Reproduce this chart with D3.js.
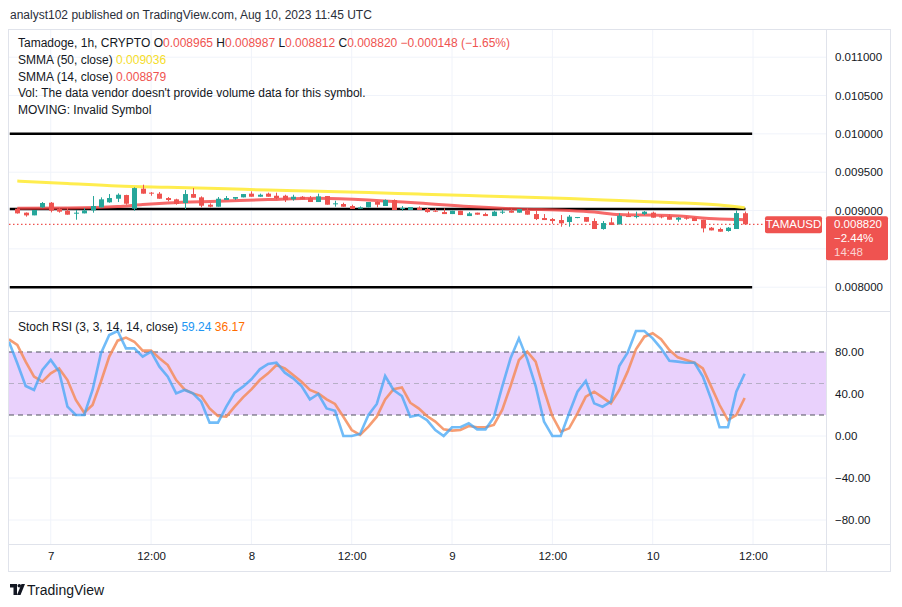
<!DOCTYPE html>
<html>
<head>
<meta charset="utf-8">
<script src="https://cdn.jsdelivr.net/npm/d3@7"></script>
<style>
body{margin:0;background:#fff;}
svg text{font-family:"Liberation Sans",Arial,sans-serif;}
</style>
</head>
<body>
<div id="chart"></div>
<script>
// hourly candles, first one at Aug 6 20:00 UTC
const opens=[0.009024,0.008972,0.008937,0.009041,0.009102,0.009020,0.008998,0.008959,0.008963,0.009002,
0.009041,0.009107,0.009154,0.009202,0.009024,0.009285,0.009233,0.009220,0.009163,0.009146,
0.009098,0.009215,0.009172,0.009076,0.009050,0.009137,0.009154,0.009172,0.009220,0.009180,
0.009220,0.009193,0.009193,0.009146,0.009180,0.009163,0.009111,0.009189,0.009085,0.009085,
0.009059,0.009024,0.009041,0.009111,0.009059,0.009137,0.009020,0.009007,0.009037,0.009020,
0.008998,0.008980,0.008954,0.008998,0.008928,0.008972,0.008954,0.008928,0.008972,0.008998,
0.008972,0.008998,0.008954,0.008902,0.008889,0.008876,0.008850,0.008907,0.008915,0.008863,
0.008759,0.008846,0.008820,0.008928,0.008920,0.008954,0.008972,0.008924,0.008924,0.008880,
0.008907,0.008907,0.008880,0.008776,0.008759,0.008733,0.008759,0.008965];
const highs=[0.009028,0.008975,0.008940,0.009111,0.009111,0.009033,0.009033,0.009007,0.009033,0.009189,
0.009172,0.009215,0.009224,0.009206,0.009302,0.009337,0.009241,0.009241,0.009176,0.009154,
0.009267,0.009293,0.009185,0.009094,0.009176,0.009189,0.009176,0.009215,0.009250,0.009220,
0.009233,0.009233,0.009206,0.009206,0.009189,0.009189,0.009220,0.009189,0.009128,0.009102,
0.009076,0.009054,0.009111,0.009120,0.009145,0.009145,0.009059,0.009046,0.009054,0.009033,
0.009028,0.009028,0.008998,0.008998,0.008980,0.008972,0.008972,0.008998,0.009015,0.009024,
0.009020,0.009028,0.009007,0.008954,0.008902,0.008941,0.008941,0.008915,0.008915,0.008898,
0.008863,0.008907,0.008963,0.008985,0.008985,0.008993,0.008985,0.008941,0.008950,0.008915,
0.008924,0.008915,0.008880,0.008785,0.008776,0.008785,0.009002,0.008987];
const lows=[0.008960,0.008920,0.008937,0.009033,0.008976,0.008972,0.008946,0.008880,0.008963,0.008972,
0.009041,0.009102,0.009111,0.009076,0.008998,0.009220,0.009193,0.009154,0.009120,0.009076,
0.009020,0.009167,0.009041,0.009041,0.009050,0.009137,0.009137,0.009172,0.009180,0.009180,
0.009180,0.009146,0.009111,0.009128,0.009146,0.009111,0.009111,0.009076,0.009050,0.009050,
0.009020,0.009024,0.009041,0.009041,0.009059,0.009007,0.008998,0.009007,0.009007,0.008972,
0.008980,0.008954,0.008954,0.008941,0.008928,0.008946,0.008928,0.008928,0.008954,0.008972,
0.008972,0.008946,0.008876,0.008876,0.008828,0.008789,0.008789,0.008900,0.008854,0.008759,
0.008750,0.008811,0.008820,0.008920,0.008898,0.008941,0.008907,0.008898,0.008880,0.008854,
0.008880,0.008863,0.008715,0.008741,0.008724,0.008724,0.008759,0.008812];
const closes=[0.008963,0.008937,0.009007,0.009098,0.008998,0.008985,0.008946,0.008972,0.009002,0.009059,
0.009146,0.009163,0.009206,0.009089,0.009293,0.009220,0.009220,0.009154,0.009137,0.009085,
0.009215,0.009167,0.009063,0.009050,0.009154,0.009163,0.009176,0.009215,0.009180,0.009206,
0.009180,0.009163,0.009137,0.009180,0.009146,0.009111,0.009185,0.009076,0.009094,0.009050,
0.009020,0.009041,0.009111,0.009076,0.009137,0.009007,0.009033,0.009046,0.009007,0.008980,
0.008985,0.008954,0.008998,0.008941,0.008963,0.008946,0.008928,0.008985,0.008985,0.008972,
0.009020,0.008946,0.008889,0.008876,0.008863,0.008833,0.008920,0.008915,0.008854,0.008759,
0.008837,0.008811,0.008933,0.008920,0.008928,0.008985,0.008907,0.008911,0.008880,0.008907,
0.008893,0.008863,0.008767,0.008741,0.008724,0.008776,0.008967,0.008820];

// smoothed moving averages read at a few candle indexes
const smma50Idx=[0,6,12,18,24,30,36,42,48,54,60,66,72,78,84,87];
const smma50=[0.009385,0.009352,0.009320,0.009303,0.009287,0.009267,0.009252,0.009235,0.009215,0.009196,0.009176,0.009156,0.009130,0.009104,0.009072,0.009036];
const smma14Idx=[0,6,12,15,18,24,30,36,42,45,48,54,60,66,69,72,78,84,86,87];
const smma14=[0.009029,0.009033,0.009052,0.009078,0.009098,0.009120,0.009143,0.009159,0.009137,0.009117,0.009098,0.009052,0.009020,0.009000,0.008980,0.008948,0.008935,0.008889,0.008883,0.008879];

// stoch rsi, first value at Aug 6 19:00 UTC
const stochK=[89.8,69.2,47.6,43.8,62.9,72.4,61.3,27.9,20.0,20.0,43.8,78.7,96.2,100,83.5,83.5,75.6,80.3,66.0,56.5,
40.6,43.8,40.6,32.7,12.7,12.7,27.9,41.3,47.0,54.0,63.5,68.6,69.8,60.3,54.9,47.6,34.9,40.0,26.3,24.1,
0,0,1.9,20.0,30.5,57.1,43.8,38.1,18.4,20.0,15.2,5.7,0,8.3,8.3,12.1,6.3,6.3,17.8,47.0,
74.0,93.0,73.0,47.6,13.7,0,0,21.6,42.2,52.4,31.1,27.9,32.7,66.7,79.4,100,100,93.0,83.5,71.7,
70.8,69.8,69.8,56.5,34.9,8.3,8.3,42.2,59.24];
const stochD=[92.1,86.7,70.8,56.5,51.7,59.7,64.4,53.3,34.3,22.2,29.5,51.7,75.6,90.8,93.7,89.8,81.3,81.3,74.0,67.6,
53.3,44.4,40.6,38.1,26.3,19.0,18.4,27.9,36.8,44.4,53.3,59.7,67.6,64.4,58.1,51.7,43.8,40.6,34.9,30.5,
18.4,5.7,1.0,8.9,18.4,34.9,44.5,46.3,31.7,26.3,19.0,13.7,6.3,5.1,5.7,9.5,8.3,8.3,10.5,24.8,
47.6,72.4,80.3,70.8,43.8,19.0,4.1,7.3,21.6,37.5,42.2,36.8,31.1,43.8,61.3,82.5,94.6,97.8,92.1,81.9,
74.9,72.4,69.8,64.4,47.0,29.5,15.2,20.0,36.17];

const priceTicks=[0.0080,0.0085,0.0090,0.0095,0.0100,0.0105,0.0110];
const priceLabels=[0.0080,0.0090,0.0095,0.0100,0.0105,0.0110]; // 0.0085 sits under the price badge
const stochTicks=[-80,-40,0,40,80];
const levelPrices=[0.010000,0.009020,0.008000];
const timeTicks=["2023-08-07T00:00Z","2023-08-07T12:00Z","2023-08-08T00:00Z","2023-08-08T12:00Z",
"2023-08-09T00:00Z","2023-08-09T12:00Z","2023-08-10T00:00Z","2023-08-10T12:00Z"];
const timeLabels=["7","12:00","8","12:00","9","12:00","10","12:00"];

const W=902,H=607;
const hour=3600e3;
const t0=Date.UTC(2023,7,6,20);
const t=i=>new Date(t0+i*hour);

const svg=d3.select("#chart").append("svg").attr("width",W).attr("height",H);

//scales
const x=d3.scaleUtc().domain([t(-1),t(96.73)]).range([8.94,826]);
const y=d3.scaleLinear().domain([0.008,0.011]).range([287.2,57.2]);
const ys=d3.scaleLinear().domain([-80,80]).range([520,352]);

const gridC="#f0f3fa", borderC="#e0e3eb";

// header
svg.append("text").attr("x",10).attr("y",19).attr("font-size",12).attr("fill","#2a2e39")
   .text("analyst102 published on TradingView.com, Aug 10, 2023 11:45 UTC");

// grid
const grid=svg.append("g");
grid.selectAll(".vg").data(timeTicks).enter().append("line")
   .attr("x1",d=>x(new Date(d))).attr("x2",d=>x(new Date(d)))
   .attr("y1",30).attr("y2",544).attr("stroke",gridC);
grid.selectAll(".hg").data(priceTicks).enter().append("line")
   .attr("x1",9).attr("x2",826).attr("y1",d=>y(d)).attr("y2",d=>y(d)).attr("stroke",gridC);
grid.selectAll(".sg").data(stochTicks).enter().append("line")
   .attr("x1",9).attr("x2",826).attr("y1",d=>ys(d)).attr("y2",d=>ys(d)).attr("stroke",gridC);

// clips
const defs=svg.append("defs");
defs.append("clipPath").attr("id","cp").append("rect").attr("x",9).attr("y",30).attr("width",817).attr("height",280);
defs.append("clipPath").attr("id","cs").append("rect").attr("x",9).attr("y",312).attr("width",817).attr("height",231);

const pane=svg.append("g").attr("clip-path","url(#cp)");

// level lines
pane.selectAll(".lvl").data(levelPrices).enter().append("line")
   .attr("x1",x(t(-0.9))).attr("x2",(d,i)=>i==1?x(t(87.1)):x(t(87.9)))
   .attr("y1",d=>y(d)).attr("y2",d=>y(d)).attr("stroke","#000").attr("stroke-width",2.5);

// moving averages
const ma=d3.line().curve(d3.curveMonotoneX).x(d=>x(t(d[0]))).y(d=>y(d[1]));
pane.append("path").datum(smma50Idx.map((d,i)=>[d,smma50[i]]))
   .attr("d",ma).attr("fill","none").attr("stroke","#ffeb3b").attr("stroke-width",3).attr("opacity",0.9);
pane.append("path").datum(smma14Idx.map((d,i)=>[d,smma14[i]]))
   .attr("d",ma).attr("fill","none").attr("stroke","#f44343").attr("stroke-width",3).attr("opacity",0.8);

// last price dotted line
pane.append("line").attr("x1",9).attr("x2",765).attr("y1",y(closes[closes.length-1])).attr("y2",y(closes[closes.length-1]))
   .attr("stroke","#ef5350").attr("stroke-width",1.3).attr("stroke-dasharray","1.5,2.5");

// candles
const candles=closes.map((c,i)=>({i:i,o:opens[i],h:highs[i],l:lows[i],c:c}));
const cg=pane.selectAll(".c").data(candles).enter().append("g")
   .attr("fill",d=>d.c>=d.o?"#26a69a":"#ef5350").attr("stroke",d=>d.c>=d.o?"#26a69a":"#ef5350");
cg.append("line").attr("x1",d=>Math.round(x(t(d.i)))+0.5).attr("x2",d=>Math.round(x(t(d.i)))+0.5)
   .attr("y1",d=>y(d.h)).attr("y2",d=>y(d.l)).attr("stroke-width",1);
cg.append("rect").attr("x",d=>Math.round(x(t(d.i)))-2).attr("width",5).attr("stroke","none")
   .attr("y",d=>y(Math.max(d.o,d.c)))
   .attr("height",d=>Math.max(1,y(Math.min(d.o,d.c))-y(Math.max(d.o,d.c))));

// stoch pane
const sp=svg.append("g").attr("clip-path","url(#cs)");
sp.append("rect").attr("x",9).attr("width",817).attr("y",ys(80)).attr("height",ys(20)-ys(80)).attr("fill","#e9d1fc");
[80,20].forEach(v=>sp.append("line").attr("x1",9).attr("x2",826).attr("y1",ys(v)).attr("y2",ys(v))
   .attr("stroke","#50535e").attr("stroke-dasharray","5,4"));
sp.append("line").attr("x1",9).attr("x2",826).attr("y1",ys(50)).attr("y2",ys(50))
   .attr("stroke","#9598a1").attr("stroke-opacity",0.6).attr("stroke-dasharray","5,4");
const sl=d3.line().x((d,i)=>x(t(i-1))).y(d=>ys(d));
sp.append("path").datum(stochD).attr("d",sl).attr("fill","none").attr("stroke","#f58c5a").attr("stroke-width",2.6).attr("opacity",0.85);
sp.append("path").datum(stochK).attr("d",sl).attr("fill","none").attr("stroke","#42a5f5").attr("stroke-width",2.6).attr("opacity",0.75);

// axes
const ay=svg.append("g").attr("transform","translate(826,0)")
   .call(d3.axisRight(y).tickValues(priceLabels).tickFormat(d3.format(".6f")).tickSize(0).tickPadding(9));
const as=svg.append("g").attr("transform","translate(826,0)")
   .call(d3.axisRight(ys).tickValues(stochTicks).tickFormat(d3.format(".2f")).tickSize(0).tickPadding(9));
const ax=svg.append("g").attr("transform","translate(0,544)")
   .call(d3.axisBottom(x).tickValues(timeTicks.map(d=>new Date(d))).tickFormat((d,i)=>timeLabels[i]).tickSize(0).tickPadding(8));
[ay,as,ax].forEach(a=>{
   a.select(".domain").remove();
   a.selectAll("text").attr("font-size",11.5).attr("fill","#131722").attr("font-family","Liberation Sans, Arial, sans-serif");
});

// frame
const fr=svg.append("g").attr("fill","none").attr("stroke",borderC);
fr.append("rect").attr("x",8.5).attr("y",29.5).attr("width",882).attr("height",542);
fr.append("line").attr("x1",826.5).attr("x2",826.5).attr("y1",29).attr("y2",572);
fr.append("line").attr("x1",8).attr("x2",891).attr("y1",311.5).attr("y2",311.5);
fr.append("line").attr("x1",8).attr("x2",891).attr("y1",544.5).attr("y2",544.5);

// legends
const lg=svg.append("g").attr("font-size",12).attr("fill","#131722").style("white-space","pre");
const l1=lg.append("text").attr("x",18).attr("y",47);
l1.append("tspan").text("Tamadoge, 1h, CRYPTO  O");
[["0.008965","  H"],["0.008987","  L"],["0.008812","  C"],["0.008820",""]].forEach(p=>{
   l1.append("tspan").attr("fill","#ef5350").text(p[0]);
   if(p[1]) l1.append("tspan").text(p[1]);
});
l1.append("tspan").attr("fill","#ef5350").text("  −0.000148 (−1.65%)");
const l2=lg.append("text").attr("x",18).attr("y",64);
l2.append("tspan").text("SMMA (50, close)  ");
l2.append("tspan").attr("fill","#f5dd2a").text("0.009036");
const l3=lg.append("text").attr("x",18).attr("y",81);
l3.append("tspan").text("SMMA (14, close)  ");
l3.append("tspan").attr("fill","#ef5350").text("0.008879");
lg.append("text").attr("x",18).attr("y",97).text("Vol: The data vendor doesn't provide volume data for this symbol.");
lg.append("text").attr("x",18).attr("y",114).text("MOVING: Invalid Symbol");
const l6=lg.append("text").attr("x",18).attr("y",331);
l6.append("tspan").text("Stoch RSI (3, 3, 14, 14, close)  ");
l6.append("tspan").attr("fill","#2196f3").text("59.24");
l6.append("tspan").text("  ");
l6.append("tspan").attr("fill","#ff6d00").text("36.17");

// price badges
const lastY=y(closes[closes.length-1]);
svg.append("rect").attr("x",765).attr("y",lastY-8).attr("width",57).attr("height",17).attr("rx",2).attr("fill","#ef5350");
svg.append("text").attr("x",793.5).attr("y",lastY+4).attr("text-anchor","middle").attr("font-size",11.5).attr("fill","#fff").text("TAMAUSD");
svg.append("rect").attr("x",826).attr("y",lastY-8).attr("width",62).attr("height",44).attr("rx",2).attr("fill","#ef5350");
const bt=svg.append("g").attr("font-size",11.5).attr("fill","#fff");
bt.append("text").attr("x",834).attr("y",lastY+4).text("0.008820");
bt.append("text").attr("x",834).attr("y",lastY+18).text("−2.44%");
bt.append("text").attr("x",834).attr("y",lastY+32).attr("fill-opacity",0.75).text("14:48");

// logo
const logo=svg.append("g").attr("fill","#131722");
logo.append("path").attr("d","M10,584 h7 v11 h-3.5 v-7.5 h-3.5 z");
logo.append("circle").attr("cx",19.3).attr("cy",585.8).attr("r",1.8);
logo.append("path").attr("d","M21.5,584 h3.5 l-4.5,11 h-3.5 z");
logo.append("text").attr("x",27).attr("y",594.5).attr("font-size",14).text("TradingView");
</script>
</body>
</html>
